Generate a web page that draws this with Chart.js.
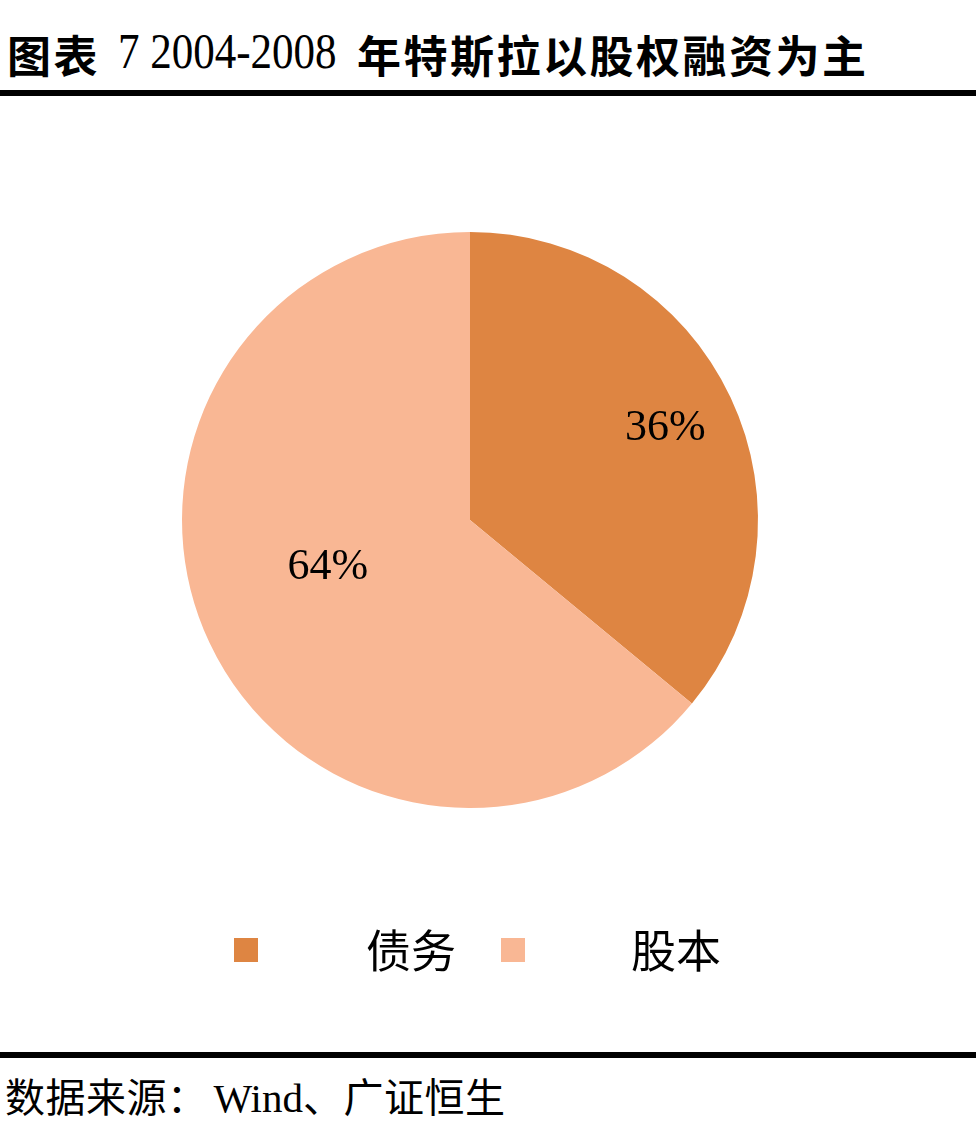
<!DOCTYPE html>
<html><head><meta charset="utf-8">
<script src="https://cdn.jsdelivr.net/npm/chart.js@4"></script>
<style>
html,body{margin:0;padding:0;background:#fff;width:976px;height:1138px;overflow:hidden;position:relative;}
.t{position:absolute;white-space:nowrap;color:#000;}
.tcjk{font-family:"Noto Sans CJK SC";font-weight:bold;font-size:44px;line-height:50px;top:29px;letter-spacing:2.5px;}
.tnum{font-family:"Liberation Serif";font-size:50px;line-height:50px;top:26px;transform:scaleX(0.86);transform-origin:left center;}
.rule{position:absolute;left:0;width:976px;background:#000;}
#wrap{position:absolute;left:0;top:100px;width:976px;height:840px;}
#legend{position:absolute;top:922px;left:0;width:976px;height:54px;}
.sw{position:absolute;width:24px;height:24px;top:16px;}
.lt{position:absolute;top:0px;font-family:"Noto Sans CJK SC";font-size:45px;line-height:54px;color:#000;white-space:nowrap;}
#source{position:absolute;left:5px;top:1070px;font-family:"Noto Sans CJK SC";font-size:40px;line-height:50px;color:#000;white-space:nowrap;letter-spacing:0.5px;}
#source .en{font-family:"Liberation Serif";font-size:41px;margin-left:6px;letter-spacing:0;}
</style></head>
<body>
<div class="t tcjk" style="left:7px;">图表</div>
<div class="t tnum" style="left:118px;">7 2004-2008</div>
<div class="t tcjk" style="left:357px;">年特斯拉以股权融资为主</div>
<div class="rule" style="top:90px;height:6px;"></div>
<div id="wrap"><canvas id="c"></canvas></div>
<div id="legend"></div>
<div class="rule" style="top:1052px;height:6px;"></div>
<div id="source">数据来源：<span class="en">Wind</span>、广证恒生</div>
<script>
const categories = ["债务", "股本"];
const shares = [36, 64];
const sliceColors = ["#DE8542", "#F9B794"];
const valueLabels = ["36%", "64%"];

const labelPlugin = {
  id: 'sliceLabels',
  afterDatasetsDraw(chart, args, opts) {
    const ctx = chart.ctx;
    const meta = chart.getDatasetMeta(0);
    ctx.save();
    ctx.font = '44px "Liberation Serif"';
    ctx.fillStyle = '#000';
    ctx.textAlign = 'center';
    ctx.textBaseline = 'middle';
    meta.data.forEach((arc, i) => {
      const p = arc.getProps(['x','y','startAngle','endAngle','outerRadius'], true);
      const pos = opts.positions[i];
      const ang = (p.startAngle + p.endAngle) / 2 + pos.dAngle;
      const r = p.outerRadius * pos.frac;
      ctx.fillText(valueLabels[i], p.x + Math.cos(ang) * r, p.y + Math.sin(ang) * r);
    });
    ctx.restore();
  }
};

const chart = new Chart(document.getElementById('c'), {
  type: 'pie',
  data: {
    labels: categories,
    datasets: [{ data: shares, backgroundColor: sliceColors, borderWidth: 0 }]
  },
  options: {
    responsive: true,
    maintainAspectRatio: false,
    animation: false,
    layout: { padding: { left: 182, right: 218, top: 132, bottom: 132 } },
    plugins: {
      legend: { display: false },
      tooltip: { enabled: false },
      sliceLabels: { positions: [ { frac: 0.75, dAngle: 0 }, { frac: 0.52, dAngle: 0.12 } ] }
    }
  },
  plugins: [labelPlugin]
});

// legend built from the same arrays
const legendPos = [ { sq: 234, tx: 366 }, { sq: 501, tx: 631 } ];
const lg = document.getElementById('legend');
categories.forEach((name, i) => {
  const sw = document.createElement('div');
  sw.className = 'sw';
  sw.style.left = legendPos[i].sq + 'px';
  sw.style.background = sliceColors[i];
  lg.appendChild(sw);
  const t = document.createElement('div');
  t.className = 'lt';
  t.style.left = legendPos[i].tx + 'px';
  t.textContent = name;
  lg.appendChild(t);
});
</script>
</body></html>
